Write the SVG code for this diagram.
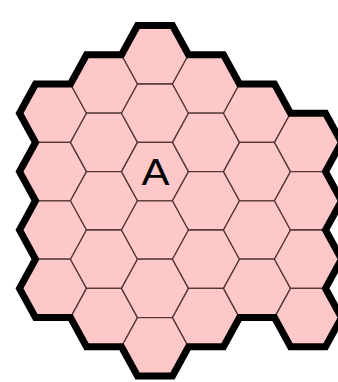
<svg xmlns="http://www.w3.org/2000/svg" xmlns:xlink="http://www.w3.org/1999/xlink" width="338" height="382" viewBox="0 0 338 382">
<style>
.hex{fill:#ffc8c8;stroke:#553535;stroke-width:1.3;stroke-linejoin:round}
.outline{fill:none;stroke:#000;stroke-width:7;stroke-linejoin:miter;stroke-miterlimit:4}
.lbl{font-family:"Liberation Sans",Arial,sans-serif;font-size:37px;fill:#000}
</style>
<defs>
<polygon id="h" points="-33.5,0 -17.5,-29.2 17.5,-29.2 33.5,0 17.5,29.2 -17.5,29.2"/>
</defs>
<rect width="338" height="382" fill="#fff"/>
<g id="c0r0"><use xlink:href="#h" href="#h" class="hex" x="53" y="113.2"/></g>
<g id="c0r1"><use xlink:href="#h" href="#h" class="hex" x="53" y="171.6"/></g>
<g id="c0r2"><use xlink:href="#h" href="#h" class="hex" x="53" y="230"/></g>
<g id="c0r3"><use xlink:href="#h" href="#h" class="hex" x="53" y="288.4"/></g>
<g id="c1r0"><use xlink:href="#h" href="#h" class="hex" x="104" y="84"/></g>
<g id="c1r1"><use xlink:href="#h" href="#h" class="hex" x="104" y="142.4"/></g>
<g id="c1r2"><use xlink:href="#h" href="#h" class="hex" x="104" y="200.8"/></g>
<g id="c1r3"><use xlink:href="#h" href="#h" class="hex" x="104" y="259.2"/></g>
<g id="c1r4"><use xlink:href="#h" href="#h" class="hex" x="104" y="317.6"/></g>
<g id="c2r0"><use xlink:href="#h" href="#h" class="hex" x="155" y="54.8"/></g>
<g id="c2r1"><use xlink:href="#h" href="#h" class="hex" x="155" y="113.2"/></g>
<g id="c2r2"><use xlink:href="#h" href="#h" class="hex" x="155" y="171.6"/><text class="lbl" x="155.5" y="185" text-anchor="middle" textLength="28" lengthAdjust="spacingAndGlyphs">A</text></g>
<g id="c2r3"><use xlink:href="#h" href="#h" class="hex" x="155" y="230"/></g>
<g id="c2r4"><use xlink:href="#h" href="#h" class="hex" x="155" y="288.4"/></g>
<g id="c2r5"><use xlink:href="#h" href="#h" class="hex" x="155" y="346.8"/></g>
<g id="c3r0"><use xlink:href="#h" href="#h" class="hex" x="206" y="84"/></g>
<g id="c3r1"><use xlink:href="#h" href="#h" class="hex" x="206" y="142.4"/></g>
<g id="c3r2"><use xlink:href="#h" href="#h" class="hex" x="206" y="200.8"/></g>
<g id="c3r3"><use xlink:href="#h" href="#h" class="hex" x="206" y="259.2"/></g>
<g id="c3r4"><use xlink:href="#h" href="#h" class="hex" x="206" y="317.6"/></g>
<g id="c4r0"><use xlink:href="#h" href="#h" class="hex" x="257" y="113.2"/></g>
<g id="c4r1"><use xlink:href="#h" href="#h" class="hex" x="257" y="171.6"/></g>
<g id="c4r2"><use xlink:href="#h" href="#h" class="hex" x="257" y="230"/></g>
<g id="c4r3"><use xlink:href="#h" href="#h" class="hex" x="257" y="288.4"/></g>
<g id="c5r0"><use xlink:href="#h" href="#h" class="hex" x="308" y="142.4"/></g>
<g id="c5r1"><use xlink:href="#h" href="#h" class="hex" x="308" y="200.8"/></g>
<g id="c5r2"><use xlink:href="#h" href="#h" class="hex" x="308" y="259.2"/></g>
<g id="c5r3"><use xlink:href="#h" href="#h" class="hex" x="308" y="317.6"/></g>
<g id="connectors"></g>
<g id="border">
<path class="outline" d="M19.5,113.2 L35.5,84 L70.5,84 L86.5,54.8 L121.5,54.8 L137.5,25.6 L172.5,25.6 L188.5,54.8 L223.5,54.8 L239.5,84 L274.5,84 L290.5,113.2 L325.5,113.2 L341.5,142.4 L325.5,171.6 L341.5,200.8 L325.5,230 L341.5,259.2 L325.5,288.4 L341.5,317.6 L325.5,346.8 L290.5,346.8 L274.5,317.6 L239.5,317.6 L223.5,346.8 L188.5,346.8 L172.5,376 L137.5,376 L121.5,346.8 L86.5,346.8 L70.5,317.6 L35.5,317.6 L19.5,288.4 L35.5,259.2 L19.5,230 L35.5,200.8 L19.5,171.6 L35.5,142.4 Z"/>
</g>
</svg>
